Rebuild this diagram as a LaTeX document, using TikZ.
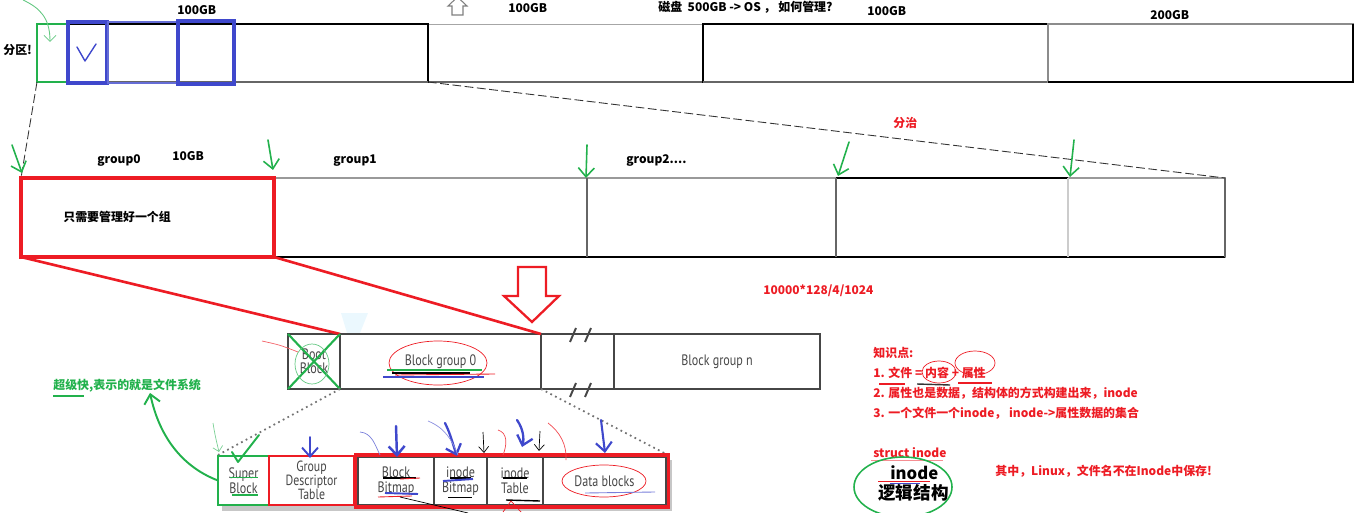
\documentclass[tikz,border=0pt]{standalone}
\usepackage{fontspec}
\newfontfamily\cjk{Noto Sans CJK SC}
\newfontfamily\cond{PT Sans}[FakeStretch=0.8]
\usetikzlibrary{arrows.meta, positioning, calc}
\definecolor{PaintGreen}{RGB}{34,177,76}
\definecolor{PaintRed}{RGB}{237,28,36}
\definecolor{PaintBlue}{RGB}{63,72,204}
\definecolor{BlockGray}{RGB}{70,70,70}
\def\px{0.02}

\begin{document}
\begin{tikzpicture}[x=\px cm, y=-\px cm,
    lbl/.style={font=\cjk\bfseries\fontsize{6.8}{8}\selectfont, inner sep=0pt, anchor=west},
    redlbl/.style={lbl, text=PaintRed},
    greenlbl/.style={lbl, text=PaintGreen},
    box/.style={draw, rectangle, inner sep=0pt, outer sep=0pt, anchor=north west},
    cell/.style={box, draw=BlockGray, line width=1.2pt, font=\cond\fontsize{8.6}{8.8}\selectfont,
        text=black!72, align=center},
    hand/.style={line width=1.1pt, line cap=round, line join=round},
    handarrow/.style={hand, -{Straight Barb[length=1.8mm, width=3.2mm]}}]

\useasboundingbox (0,0) rectangle (1368,513);

% disco: particiones
\node[box, draw=black!35, line width=0.5pt, minimum width={275*\px cm}, minimum height={58*\px cm}] (part2) at (428,24) {};
\draw[black!60, line width=0.8pt] (part2.south west) -- (part2.south east);
\node[box, draw=black, line width=0.6pt, minimum width={345*\px cm}, minimum height={58*\px cm}] (part3) at (703,24) {};
\draw[black!60, line width=1.2pt] (part3.south west) -- (part3.south east);
\node[box, draw=black!45, line width=0.6pt, minimum width={305*\px cm}, minimum height={58*\px cm}] (part4) at (1048,24) {};
\draw[black, line width=0.6pt] (part4.north east) -- (part4.south east) -- (part4.south west);
\node[box, draw=black, line width=0.6pt, minimum width={391*\px cm}, minimum height={58*\px cm}] (part1) at (37,24) {};
\draw[black!60, line width=1pt] (part1.south west) -- (part1.south east);

\draw[PaintGreen, line width=1.7pt] (37,24) rectangle (67,82);
\draw[PaintBlue, line width=1.9pt] (68,22) rectangle (107,83);
\draw[PaintBlue!80, line width=1.7pt] (108,22) rectangle (177,83);
\draw[PaintBlue, line width=1.9pt] (178,21) rectangle (234,84);
\draw[PaintBlue, hand, line width=0.8pt] (77,47) -- (85,61) -- (96,44);
\draw[PaintGreen!70, line width=0.5pt, -{Straight Barb[length=1.2mm]}] (23,0) .. controls (40,8) and (50,18) .. (50,42);

\node[lbl] (sz1) at (177,10) {100GB};
\node[lbl] (sz2) at (508,8) {100GB};
\node[lbl] (disk) at (658,7) {磁盘\ \ 500GB -> OS ，\ 如何管理?};
\node[lbl] (sz3) at (867,11) {100GB};
\node[lbl] (sz4) at (1150,15) {200GB};
\node[lbl] (part) at (3,50) {分区!};
\draw[black!50, line width=0.6pt] (452,15) -- (452,6) -- (448,6) -- (457.5,-3) -- (467,6) -- (463,6) -- (463,15) -- cycle;

% grupos
\node[box, draw=black!40, line width=0.6pt, minimum width={1204*\px cm}, minimum height={79*\px cm}] (grp) at (21,178) {};
\draw[black, line width=0.6pt] (grp.south west) -- (grp.south east);
\draw[black, line width=0.6pt] (836,178) -- (1068,178);
\foreach \x in {587,836}
    \draw[black!60, line width=0.6pt] (\x,178) -- (\x,257);
\draw[black!20, line width=0.6pt] (1068,178) -- (1068,257);
\draw[black!60, line width=0.6pt] (grp.north east) -- (grp.south east);
\node[box, draw=PaintRed, line width=1.8pt, minimum width={253*\px cm}, minimum height={79*\px cm}] (grp0) at (21,178) {};

\draw[black!80, dash pattern=on 5pt off 2pt, line width=0.5pt] (part1.south west) -- (grp.north west);
\draw[black!80, dash pattern=on 5pt off 2pt, line width=0.5pt] (part1.south east) -- (grp.north east);

\node[lbl] (g0) at (97,161) {group0};
\node[lbl] (g0size) at (172,156) {10GB};
\node[lbl] (g1) at (333,161) {group1};
\node[lbl] (g2) at (626,161) {group2....};
\node[lbl] (only) at (63,217) {只需要管理好一个组};
\node[redlbl] (divide) at (893,123) {分治};

\foreach \sx/\sy/\ex/\ey in {12/145/22/173, 268/140/273/170, 587/145/586/178, 849/142/838/176, 1074/140/1070/177}
    \draw[handarrow, PaintGreen, line width=0.9pt] (\sx,\sy) -- (\ex,\ey);

% block groups
\fill[cyan!8] (341,313) -- (368,313) -- (360,333) -- (347,333) -- cycle;
\node[cell, minimum width={52*\px cm}, minimum height={55*\px cm}] (boot) at (288,334) {Boot\\[-1pt]Block};
\node[cell, minimum width={201*\px cm}, minimum height={55*\px cm}] (bg0) at (340,334) {Block group 0};
\node[box, draw=none, minimum width={73*\px cm}, minimum height={55*\px cm}] (gap) at (541,334) {};
\draw[BlockGray, line width=1.2pt] (gap.north west) -- (gap.north east) (gap.south west) -- (gap.south east);
\node[cell, minimum width={206*\px cm}, minimum height={55*\px cm}] (bgn) at (614,334) {Block group n};
\foreach \bx in {573,588}{
    \draw[BlockGray, line width=1.1pt] (\bx-3,342) -- (\bx+3,328);
    \draw[BlockGray, line width=1.1pt] (\bx-3,397) -- (\bx+3,383);
}

\draw[PaintRed, line width=1.5pt] (grp0.south west) -- (boot.north east);
\draw[PaintRed, line width=1.5pt] (grp0.south east) -- (bg0.north east);
\draw[PaintRed, line width=1.3pt, line join=miter] (518,267) -- (546,267) -- (546,296) -- (559,296) -- (532,322) -- (504,296) -- (518,296) -- cycle;

\draw[PaintGreen, line width=1.2pt] (boot.north west) -- (boot.south east) (boot.north east) -- (boot.south west);
\draw[PaintGreen!70, line width=0.4pt] (312,364) ellipse [x radius=17, y radius=20];
\draw[PaintRed!70, line width=0.4pt] (262,341) .. controls (280,345) .. (298,352);
\draw[PaintRed, line width=0.4pt] (438,363) ellipse [x radius=49, y radius=22];
\draw[PaintGreen, line width=1pt] (387,370) -- (482,370);
\draw[black, line width=0.8pt] (392,373) -- (470,373);
\draw[PaintRed, line width=0.5pt] (395,375) -- (495,374);
\draw[PaintBlue, line width=0.8pt] (383,377) -- (484,377);

% metadata of one group
\fill[black!22] (222,460) rectangle (672,511);
\draw[black!55, dotted, line width=1pt] (bg0.south west) -- (218,455);
\draw[black!55, dotted, line width=1pt] (bg0.south east) -- (668,455);
\node[cell, draw=PaintGreen, line width=1.5pt, fill=white, minimum width={51*\px cm}, minimum height={49*\px cm}] (sb) at (218,456) {Super\\Block};
\node[cell, draw=PaintRed, line width=1.5pt, fill=white, font=\cond\fontsize{8.4}{7.8}\selectfont, minimum width={85*\px cm}, minimum height={49*\px cm}] (gdt) at (269,456) {Group\\Descriptor\\Table};
\node[box, draw=PaintRed, line width=1.9pt, fill=white, minimum width={312*\px cm}, minimum height={52*\px cm}] (meta) at (356,455) {};
\node[cell, line width=0.9pt, minimum width={76*\px cm}, minimum height={47*\px cm}] (bbm) at (358,457.5) {Block\\Bitmap};
\node[cell, line width=0.9pt, minimum width={53*\px cm}, minimum height={47*\px cm}] (ibm) at (434,457.5) {inode\\Bitmap};
\node[cell, line width=0.9pt, minimum width={56*\px cm}, minimum height={47*\px cm}] (itab) at (487,457.5) {inode\\Table};
\node[cell, line width=0.9pt, minimum width={123*\px cm}, minimum height={47*\px cm}] (data) at (543,457.5) {Data blocks};

% marcas sobre la fila
\draw[PaintGreen, line width=0.5pt] (230,477) -- (258,477);
\draw[PaintGreen, line width=1.3pt] (232,495) -- (258,495);
\draw[black, line width=0.6pt] (383,478) -- (416,478);
\draw[PaintRed, line width=0.5pt] (400,479) -- (420,478);
\draw[PaintBlue, line width=1.1pt] (385,493) -- (418,494);
\draw[PaintRed, line width=0.5pt] (378,497) -- (412,496);
\draw[black, line width=0.4pt] (400,497) -- (468,513);
\draw[black, line width=0.6pt] (450,478) -- (471,478);
\draw[PaintBlue, line width=1.1pt] (443,481) -- (473,479);
\draw[black, line width=0.5pt] (448,497) -- (472,497);
\draw[black, line width=0.6pt] (503,478) -- (527,478);
\draw[black, line width=0.8pt] (506,500) -- (540,501);
\draw[PaintRed, line width=0.4pt] (503,512) -- (511,501) -- (521,512);
\draw[PaintRed, line width=0.4pt] (604,481) ellipse [x radius=42, y radius=16];
\draw[PaintBlue!70, line width=0.5pt] (585,493) -- (655,492);

\draw[handarrow, PaintBlue] (310,437) -- (310,458);
\draw[handarrow, PaintBlue, line width=1.4pt] (396,426) -- (397,457);
\draw[PaintBlue!70, line width=0.4pt] (360,432) .. controls (372,433) and (375,445) .. (380,455);
\draw[handarrow, PaintBlue, line width=1.3pt] (445,423) .. controls (451,435) and (453,445) .. (457,456);
\draw[PaintBlue!60, line width=0.4pt] (428,421) .. controls (445,428) and (452,440) .. (458,455);
\draw[black, line width=0.4pt, -{Straight Barb[length=1.2mm, width=2mm]}] (483,432) -- (484,453);
\draw[black, line width=0.4pt, -{Straight Barb[length=1.2mm, width=2mm]}] (540,431) -- (539,451);
\draw[handarrow, PaintBlue, line width=1.3pt] (517,420) .. controls (524,430) and (524,440) .. (522,447);
\draw[PaintRed!80, line width=0.4pt] (498,430) .. controls (508,433) and (507,445) .. (503,455);
\draw[PaintRed!80, line width=0.4pt] (548,423) .. controls (560,432) and (567,445) .. (566,460);
\draw[handarrow, PaintBlue, line width=1.2pt] (601,420) .. controls (603,435) .. (605,453);

\node[greenlbl] (sbnote) at (53,386) {超级快,表示的就是文件系统};
\draw[PaintGreen, line width=0.6pt] (53,396) -- (84,396);
\draw[handarrow, PaintGreen] (sb.west) .. controls (185,468) and (160,440) .. (sbnote.south east -| 150,403);
\draw[hand, PaintGreen] (232,452) -- (238,462) -- (259,435);
\draw[PaintGreen!60, line width=0.4pt, -{Straight Barb[length=1mm]}] (213,423) .. controls (215,435) .. (219,452);

% notas
\node[redlbl] (calc) at (763,291) {10000*128/4/1024};
\node[redlbl] (kp) at (873,353) {知识点:};
\node[redlbl] (k1) at (873,373) {1. 文件 = 内容 + 属性};
\node[redlbl] (k2) at (873,393) {2. 属性也是数据，结构体的方式构建出来，inode};
\node[redlbl] (k3) at (873,413) {3. 一个文件一个inode， inode->属性数据的集合};
\draw[PaintRed, line width=0.4pt] (939,372) ellipse [x radius=17, y radius=11];
\draw[PaintRed, line width=0.4pt] (975,363) ellipse [x radius=20, y radius=12];
\draw[PaintRed, line width=0.8pt] (879,384) -- (905,384);
\draw[black!80, line width=0.8pt] (917,384) -- (950,385);
\draw[PaintRed, line width=0.6pt] (958,383) -- (992,383);

\node[redlbl] (st) at (873,453) {struct inode};
\draw[PaintRed!50, line width=0.4pt] (871,460) -- (943,460);
\node[lbl, font=\cjk\bfseries\fontsize{9.5}{10}\selectfont] (ino) at (890,473) {inode};
\node[lbl, font=\cjk\bfseries\fontsize{10}{11}\selectfont] (logic) at (878,493) {逻辑结构};
\draw[PaintRed, line width=0.4pt] (878,481) -- (930,481);
\draw[PaintBlue, line width=0.4pt] (890,483) -- (920,483);
\draw[PaintGreen, line width=0.9pt] (903,487) ellipse [x radius=49, y radius=30];
\node[redlbl] (note) at (995,471) {其中，Linux，文件名不在Inode中保存!};

\end{tikzpicture}
\end{document}
